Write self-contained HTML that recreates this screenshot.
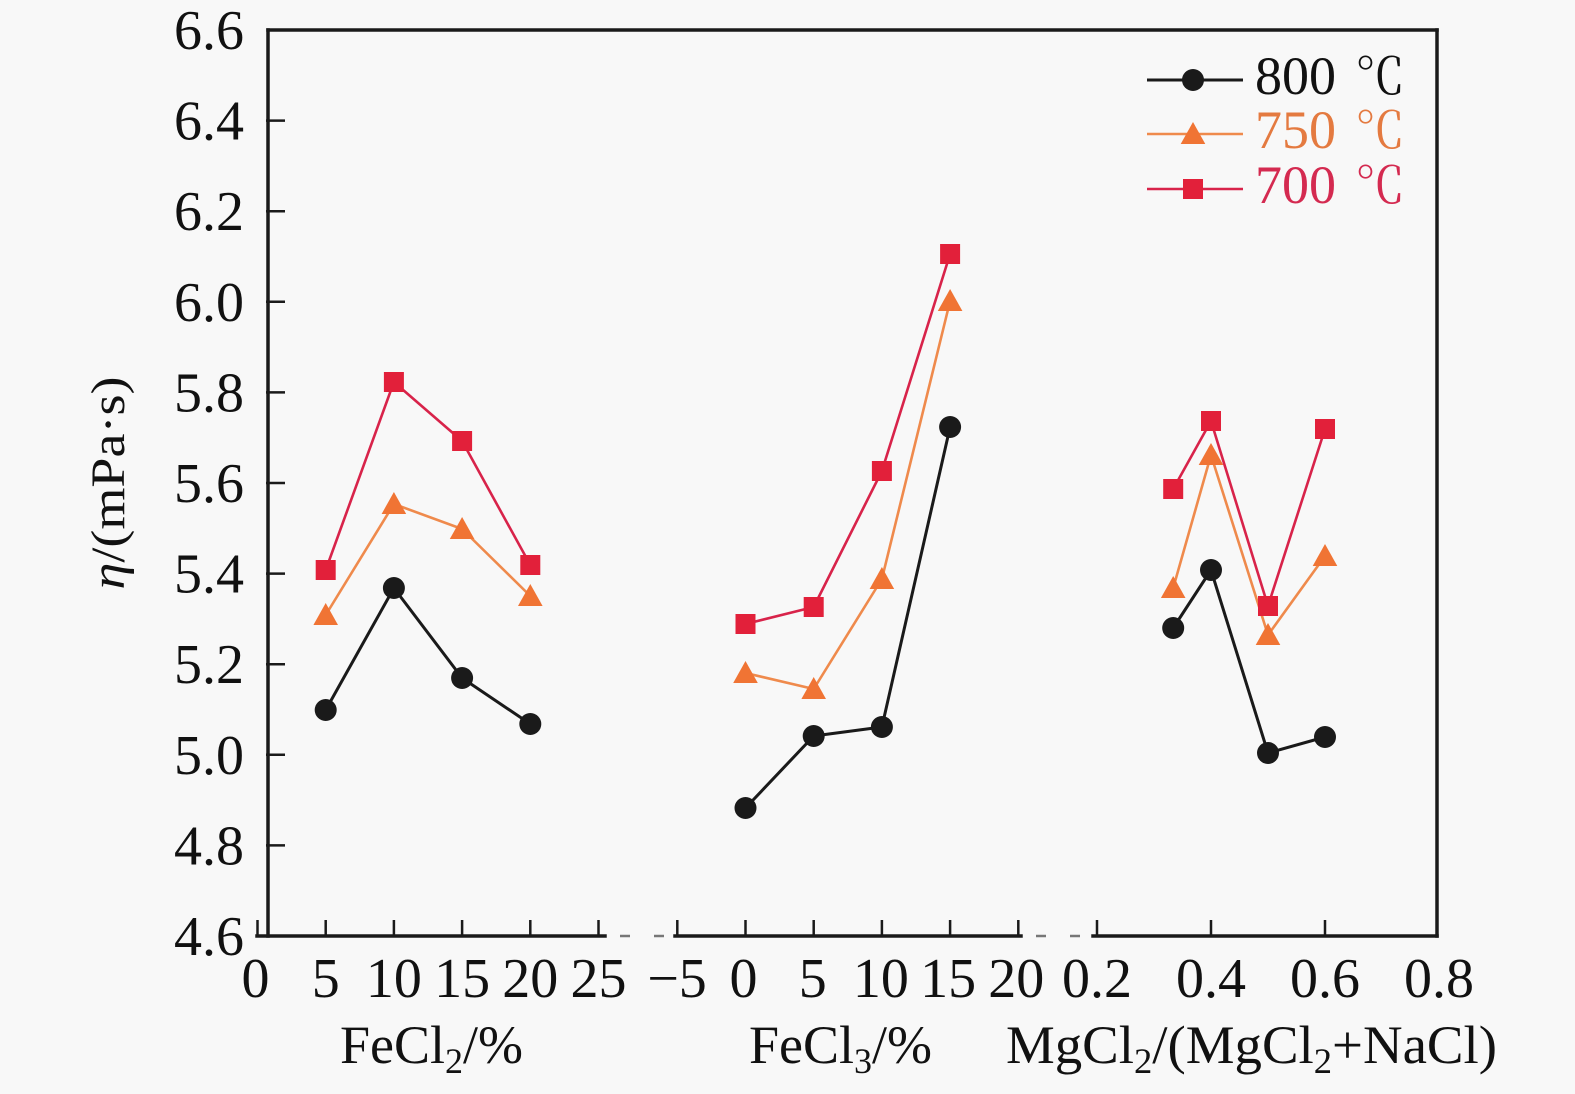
<!DOCTYPE html>
<html>
<head>
<meta charset="utf-8">
<style>
  html, body { margin: 0; padding: 0; background: #f8f8f8; }
  svg { display: block; }
  text { font-family: "Liberation Serif", "Times New Roman", Times, serif; fill: #111; }
  .cj { font-family: "Liberation Serif", "Noto Serif CJK SC", "Noto Sans CJK SC", serif; }
</style>
</head>
<body>
<svg width="1575" height="1094" viewBox="0 0 1575 1094" xmlns="http://www.w3.org/2000/svg">
  <rect x="0" y="0" width="1575" height="1094" fill="#f8f8f8"/>

  <!-- Frame -->
  <g stroke="#1a1a1a" stroke-width="3.5" fill="none" stroke-linecap="square">
    <line x1="268" y1="30" x2="268" y2="936"/>
    <line x1="268" y1="30" x2="1437" y2="30"/>
    <line x1="1437" y1="30" x2="1437" y2="936"/>
    <line x1="257" y1="936" x2="605" y2="936"/>
    <line x1="675" y1="936" x2="1021" y2="936"/>
    <line x1="1093" y1="936" x2="1437" y2="936"/>
  </g>
  <!-- axis breaks -->
  <g stroke="#777" stroke-width="2.5" fill="none">
    <line x1="608" y1="936" x2="676" y2="936" stroke-dasharray="0,12,10,12"/>
    <line x1="1024" y1="936" x2="1092" y2="936" stroke-dasharray="0,12,10,12"/>
  </g>

  <!-- Y ticks -->
  <g stroke="#1a1a1a" stroke-width="2.5">
    <line x1="266" y1="120.6" x2="285" y2="120.6"/>
    <line x1="266" y1="211.2" x2="285" y2="211.2"/>
    <line x1="266" y1="301.8" x2="285" y2="301.8"/>
    <line x1="266" y1="392.4" x2="285" y2="392.4"/>
    <line x1="266" y1="483" x2="285" y2="483"/>
    <line x1="266" y1="573.6" x2="285" y2="573.6"/>
    <line x1="266" y1="664.2" x2="285" y2="664.2"/>
    <line x1="266" y1="754.8" x2="285" y2="754.8"/>
    <line x1="266" y1="845.4" x2="285" y2="845.4"/>
  </g>
  <!-- X ticks -->
  <g stroke="#1a1a1a" stroke-width="2.5">
    <line x1="257.5" y1="936" x2="257.5" y2="920"/>
    <line x1="325.7" y1="936" x2="325.7" y2="920"/>
    <line x1="393.9" y1="936" x2="393.9" y2="920"/>
    <line x1="462.1" y1="936" x2="462.1" y2="920"/>
    <line x1="530.3" y1="936" x2="530.3" y2="920"/>
    <line x1="598.5" y1="936" x2="598.5" y2="920"/>
    <line x1="677.3" y1="936" x2="677.3" y2="920"/>
    <line x1="745.5" y1="936" x2="745.5" y2="920"/>
    <line x1="813.7" y1="936" x2="813.7" y2="920"/>
    <line x1="881.9" y1="936" x2="881.9" y2="920"/>
    <line x1="950.1" y1="936" x2="950.1" y2="920"/>
    <line x1="1018.3" y1="936" x2="1018.3" y2="920"/>
    <line x1="1097" y1="936" x2="1097" y2="920"/>
    <line x1="1211" y1="936" x2="1211" y2="920"/>
    <line x1="1325" y1="936" x2="1325" y2="920"/>
  </g>

  <!-- Y tick labels -->
  <g font-size="56" text-anchor="end">
    <text x="244" y="49">6.6</text>
    <text x="244" y="139.6">6.4</text>
    <text x="244" y="230.2">6.2</text>
    <text x="244" y="320.8">6.0</text>
    <text x="244" y="411.4">5.8</text>
    <text x="244" y="502">5.6</text>
    <text x="244" y="592.6">5.4</text>
    <text x="244" y="683.2">5.2</text>
    <text x="244" y="773.8">5.0</text>
    <text x="244" y="864.4">4.8</text>
    <text x="244" y="955">4.6</text>
  </g>

  <!-- X tick labels -->
  <g font-size="56" text-anchor="middle">
    <text x="255.5" y="997">0</text>
    <text x="325.7" y="997">5</text>
    <text x="393.9" y="997">10</text>
    <text x="462.1" y="997">15</text>
    <text x="530.3" y="997">20</text>
    <text x="598.5" y="997">25</text>
    <text x="677" y="997">−5</text>
    <text x="743.5" y="997">0</text>
    <text x="812.7" y="997">5</text>
    <text x="880.9" y="997">10</text>
    <text x="948.1" y="997">15</text>
    <text x="1016.3" y="997">20</text>
    <text x="1097" y="997">0.2</text>
    <text x="1211" y="997">0.4</text>
    <text x="1325" y="997">0.6</text>
    <text x="1439" y="997">0.8</text>
  </g>

  <!-- Axis titles -->
  <g font-size="54">
    <text x="340" y="1063">FeCl<tspan font-size="36" dy="10">2</tspan><tspan dy="-10">/%</tspan></text>
    <text x="749" y="1063">FeCl<tspan font-size="36" dy="10">3</tspan><tspan dy="-10">/%</tspan></text>
    <text x="1006" y="1063" textLength="491" lengthAdjust="spacingAndGlyphs">MgCl<tspan font-size="36" dy="10">2</tspan><tspan dy="-10">/(MgCl</tspan><tspan font-size="36" dy="10">2</tspan><tspan dy="-10">+NaCl)</tspan></text>
  </g>
  <text transform="translate(124,483) rotate(-90)" font-size="48" text-anchor="middle" textLength="213" lengthAdjust="spacingAndGlyphs"><tspan font-style="italic">η</tspan>/(mPa·s)</text>

  <!-- Series lines -->
  <g fill="none" stroke-linejoin="round">
    <g stroke="#1a1a1a" stroke-width="3">
      <polyline points="325.7,710 393.9,588 462.1,678 530.3,724"/>
      <polyline points="745.5,808 813.7,736 881.9,727 950.1,427"/>
      <polyline points="1173.2,628 1211,570 1268,753 1325,737"/>
    </g>
    <g stroke="#ef8a4c" stroke-width="2.6">
      <polyline points="325.7,615 393.9,504 462.1,529 530.3,596"/>
      <polyline points="745.5,673 813.7,689 881.9,579 950.1,301"/>
      <polyline points="1173.2,588 1211,455 1268,635 1325,556"/>
    </g>
    <g stroke="#d8234a" stroke-width="2.6">
      <polyline points="325.7,570 393.9,382 462.1,441 530.3,565"/>
      <polyline points="745.5,624 813.7,607 881.9,471 950.1,254"/>
      <polyline points="1173.2,489 1211,421 1268,606 1325,429"/>
    </g>
  </g>

  <!-- Markers 800 -->
  <g fill="#1a1a1a">
    <circle cx="325.7" cy="710" r="11"/>
    <circle cx="393.9" cy="588" r="11"/>
    <circle cx="462.1" cy="678" r="11"/>
    <circle cx="530.3" cy="724" r="11"/>
    <circle cx="745.5" cy="808" r="11"/>
    <circle cx="813.7" cy="736" r="11"/>
    <circle cx="881.9" cy="727" r="11"/>
    <circle cx="950.1" cy="427" r="11"/>
    <circle cx="1173.2" cy="628" r="11"/>
    <circle cx="1211" cy="570" r="11"/>
    <circle cx="1268" cy="753" r="11"/>
    <circle cx="1325" cy="737" r="11"/>
  </g>
  <!-- Markers 750 (triangles) -->
  <g fill="#f07434">
    <polygon points="325.7,603 338,625 313.4,625"/>
    <polygon points="393.9,492 406.2,514 381.6,514"/>
    <polygon points="462.1,517 474.4,539 449.8,539"/>
    <polygon points="530.3,584 542.6,606 518,606"/>
    <polygon points="745.5,661 757.8,683 733.2,683"/>
    <polygon points="813.7,677 826,699 801.4,699"/>
    <polygon points="881.9,567 894.2,589 869.6,589"/>
    <polygon points="950.1,289 962.4,311 937.8,311"/>
    <polygon points="1173.2,576 1185.5,598 1160.9,598"/>
    <polygon points="1211,443 1223.3,465 1198.7,465"/>
    <polygon points="1268,623 1280.3,645 1255.7,645"/>
    <polygon points="1325,544 1337.3,566 1312.7,566"/>
  </g>
  <!-- Markers 700 (squares) -->
  <g fill="#e2203a">
    <rect x="315.7" y="560" width="20" height="20"/>
    <rect x="383.9" y="372" width="20" height="20"/>
    <rect x="452.1" y="431" width="20" height="20"/>
    <rect x="520.3" y="555" width="20" height="20"/>
    <rect x="735.5" y="614" width="20" height="20"/>
    <rect x="803.7" y="597" width="20" height="20"/>
    <rect x="871.9" y="461" width="20" height="20"/>
    <rect x="940.1" y="244" width="20" height="20"/>
    <rect x="1163.2" y="479" width="20" height="20"/>
    <rect x="1201" y="411" width="20" height="20"/>
    <rect x="1258" y="596" width="20" height="20"/>
    <rect x="1315" y="419" width="20" height="20"/>
  </g>

  <!-- Legend -->
  <g>
    <line x1="1147" y1="80" x2="1243" y2="80" stroke="#1a1a1a" stroke-width="3"/>
    <circle cx="1193" cy="80" r="11" fill="#1a1a1a"/>
    <text x="1255" y="94" font-size="54">800</text>
    <text class="cj" x="1355" y="94" font-size="50">℃</text>

    <line x1="1147" y1="134" x2="1243" y2="134" stroke="#ef8a4c" stroke-width="2.6"/>
    <polygon points="1193,122 1205.3,144 1180.7,144" fill="#f07434"/>
    <text x="1255" y="148" font-size="54" style="fill:#e47a40">750</text>
    <text class="cj" x="1355" y="148" font-size="50" style="fill:#e47a40">℃</text>

    <line x1="1147" y1="189" x2="1243" y2="189" stroke="#d8234a" stroke-width="2.6"/>
    <rect x="1183" y="179" width="20" height="20" fill="#e2203a"/>
    <text x="1255" y="203" font-size="54" style="fill:#d42a50">700</text>
    <text class="cj" x="1355" y="203" font-size="50" style="fill:#d42a50">℃</text>
  </g>
</svg>
</body>
</html>
